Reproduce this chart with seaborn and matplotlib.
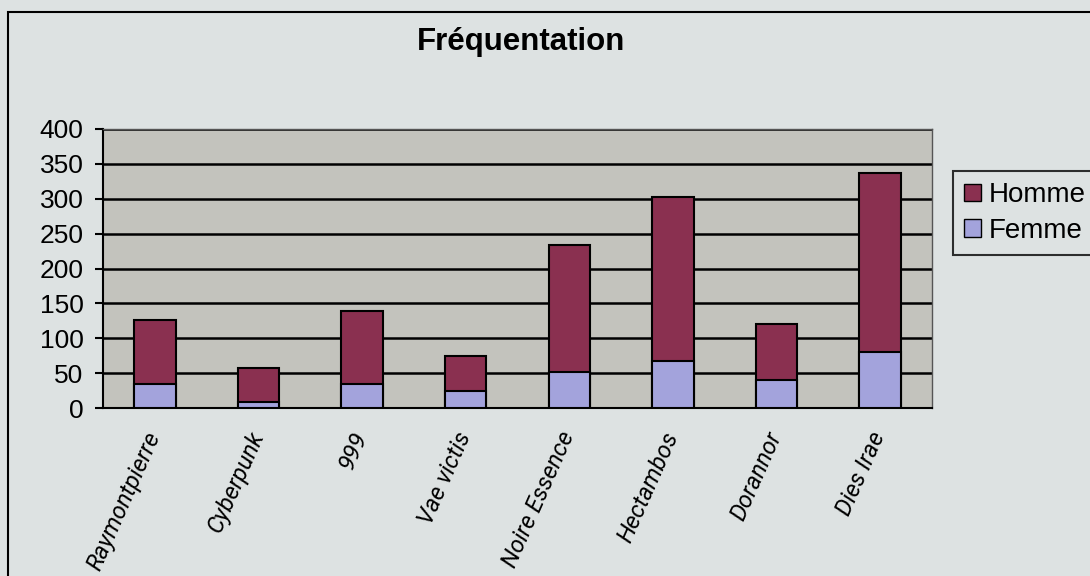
import pandas as pd
import matplotlib.pyplot as plt
import matplotlib.transforms as mtransforms
import seaborn as sns
from matplotlib.patches import Patch, Rectangle

# Values
categories = ["Raymontpierre", "Cyberpunk", "999", "Vae victis",
              "Noire Essence", "Hectambos", "Dorannor", "Dies Irae"]
femme = [35, 8, 35, 24, 52, 68, 40, 80]
homme = [91, 50, 104, 50, 182, 234, 81, 257]
y_ticks = [0, 50, 100, 150, 200, 250, 300, 350, 400]

df = pd.DataFrame({"jeu": categories, "Femme": femme, "Homme": homme})
df["Total"] = df["Femme"] + df["Homme"]

col_homme = "#8a3050"
col_femme = "#a3a3dc"
bg = "#dde2e2"
plot_bg = "#c3c3bd"

sns.set_style("white")
plt.rcParams["font.family"] = ["Liberation Sans", "DejaVu Sans"]
plt.rcParams["text.color"] = "black"
plt.rcParams["xtick.color"] = "black"
plt.rcParams["ytick.color"] = "black"

fig = plt.figure(figsize=(10.9, 5.76), dpi=100, facecolor=bg)
ax = fig.add_axes([103 / 1090, 1 - 408 / 576, 829 / 1090, 279 / 576])
ax.set_facecolor(plot_bg)

# outer chart frame
fig.patches.append(Rectangle((8 / 1090, -0.05), 1.2, (576 - 12) / 576 + 0.05,
                             transform=fig.transFigure, fill=False,
                             edgecolor="black", linewidth=1.5))

# stacked bars: total first (Homme on top), then Femme
sns.barplot(data=df, x="jeu", y="Total", color=col_homme, width=0.4,
            edgecolor="black", linewidth=1.5, saturation=1, ax=ax, zorder=3)
sns.barplot(data=df, x="jeu", y="Femme", color=col_femme, width=0.4,
            edgecolor="black", linewidth=1.5, saturation=1, ax=ax, zorder=4)

ax.set_ylim(0, 400)
ax.set_xlim(-0.5, len(categories) - 0.5)
ax.set_yticks(y_ticks)
ax.set_yticklabels([str(v) for v in y_ticks], fontsize=19)
ax.yaxis.grid(True, color="black", linewidth=1.8, zorder=1)
ax.set_axisbelow(True)

# x ticks between categories; category labels drawn as rotated text
ax.set_xticks(range(len(categories)))
ax.set_xticklabels([])
ax.set_xticks([i - 0.5 for i in range(len(categories) + 1)], minor=True)
ax.tick_params(axis="x", which="major", length=0)
ax.tick_params(axis="x", which="minor", length=6, width=1.5, direction="out")
ax.tick_params(axis="y", length=6, width=1.5, direction="out", left=True, pad=8)

offset = mtransforms.ScaledTranslation(-11 / 100, -20 / 100, fig.dpi_scale_trans)
for i, name in enumerate(categories):
    ax.text(i, 0, name, transform=ax.get_xaxis_transform() + offset,
            rotation=66, ha="right", va="top", rotation_mode="anchor",
            fontstyle="italic", fontsize=17, family="Roboto")

for side in ["left", "bottom"]:
    ax.spines[side].set_color("black")
    ax.spines[side].set_linewidth(1.5)
for side in ["top", "right"]:
    ax.spines[side].set_color("#555555")
    ax.spines[side].set_linewidth(1.0)

ax.set_xlabel("")
ax.set_ylabel("")

fig.text(521 / 1090, 1 - 42 / 576, "Fréquentation", fontsize=22.5,
         fontweight="bold", ha="center", va="center")

handles = [Patch(facecolor=col_homme, edgecolor="black", label="Homme"),
           Patch(facecolor=col_femme, edgecolor="black", label="Femme")]
leg = fig.legend(handles=handles, loc="upper left",
                 bbox_to_anchor=(953 / 1090, 1 - 171 / 576), fontsize=20,
                 frameon=True, fancybox=False, handlelength=0.6,
                 handleheight=0.6, handletextpad=0.3, borderpad=0.4,
                 labelspacing=0.35, borderaxespad=0)
leg.get_frame().set_edgecolor("black")
leg.get_frame().set_linewidth(1.5)
leg.get_frame().set_facecolor(bg)

plt.savefig("out.png", dpi=100, facecolor=bg)
